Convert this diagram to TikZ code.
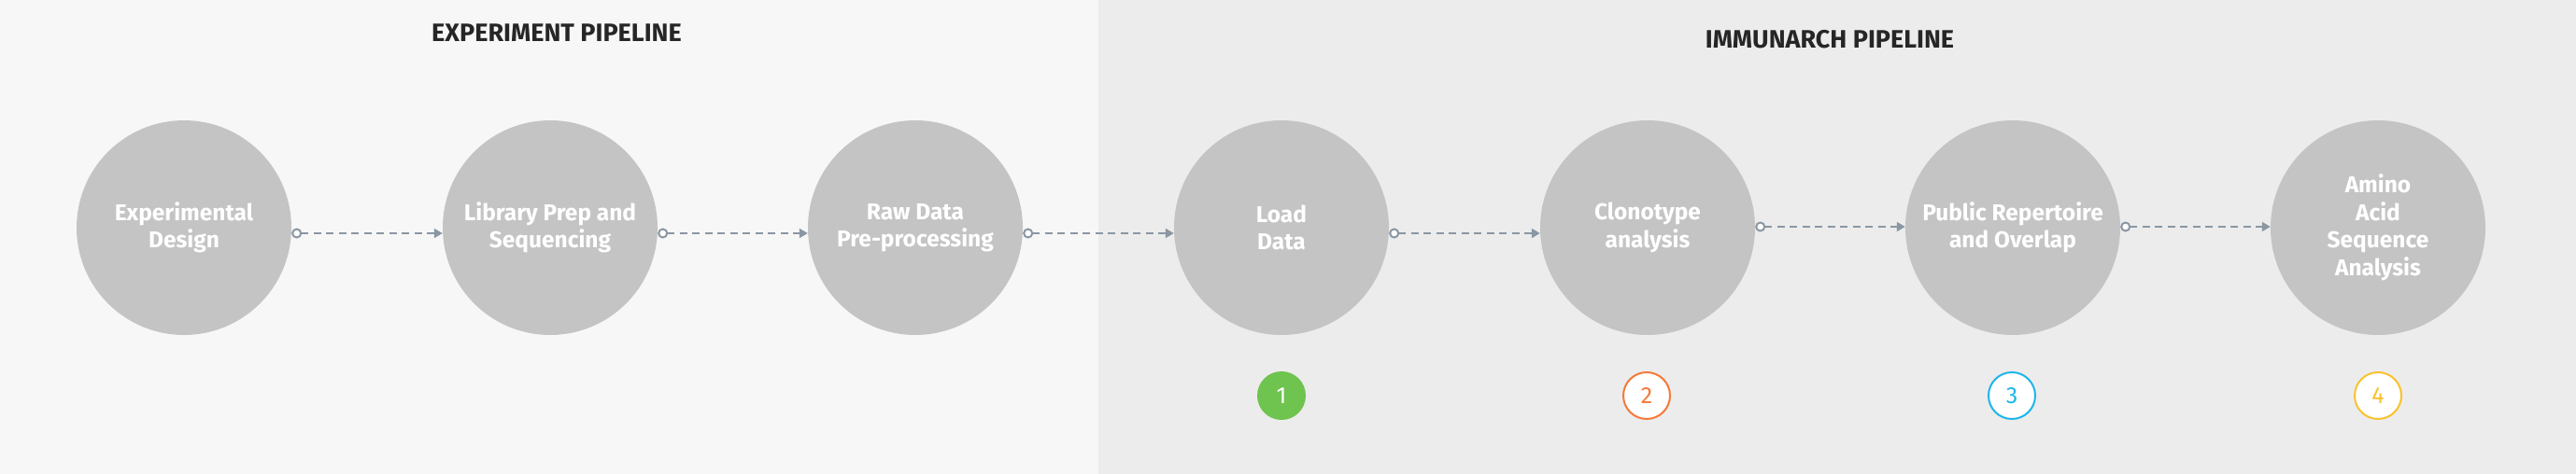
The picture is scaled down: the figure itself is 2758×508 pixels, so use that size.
\documentclass[tikz,border=0pt]{standalone}
\usepackage{fontspec}
\setmainfont{Fira Sans}
\usetikzlibrary{arrows.meta}
\definecolor{bgleft}{HTML}{F7F7F7}
\definecolor{bgright}{HTML}{ECECEC}
\definecolor{stepgray}{HTML}{C4C4C4}
\definecolor{conncol}{HTML}{8A97A3}
\definecolor{titlecol}{HTML}{262626}
\definecolor{bgreen}{HTML}{6FC34F}
\definecolor{borange}{HTML}{F47A3A}
\definecolor{bblue}{HTML}{1EB6E9}
\definecolor{byellow}{HTML}{F9C22E}
\tikzset{
  stepcircle/.style={circle, fill=stepgray, minimum size=230pt, inner sep=0pt,
    text=white, align=center, font=\fontsize{24.5}{29.5}\selectfont\bfseries},
  conn/.style={draw=conncol, line width=2pt, dash pattern=on 8pt off 5.5pt,
    {Circle[open,length=11pt,width=11pt,fill=white,line width=2pt]}-{Triangle[length=9pt,width=10pt]}},
  title/.style={text=titlecol, font=\fontsize{27}{30}\selectfont\bfseries},
  badge/.style={circle, minimum size=50pt, inner sep=0pt, line width=2pt,
    font=\fontsize{25}{30}\selectfont}
}
\begin{document}
\begin{tikzpicture}[x=1pt,y=-1pt]
\useasboundingbox (0,0) rectangle (2758,508);
\fill[bgleft] (0,0) rectangle (1176,508);
\fill[bgright] (1176,0) rectangle (2758,508);
\node[title] (t1) at (596,35) {EXPERIMENT PIPELINE};
\node[title] (t2) at (1959,42) {IMMUNARCH PIPELINE};
\node[stepcircle] (a) at (197,244) {Experimental\\Design};
\node[stepcircle] (b) at (589,244) {Library Prep and\\Sequencing};
\node[stepcircle] (c) at (980,244) {Raw Data\\Pre-processing};
\node[stepcircle] (d) at (1372,244) {Load\\Data};
\node[stepcircle] (e) at (1764,244) {Clonotype\\analysis};
\node[stepcircle] (f) at (2155,244) {Public Repertoire\\and Overlap};
\node[stepcircle] (g) at (2546,244) {Amino\\Acid\\Sequence\\Analysis};
\draw[conn] ([yshift=-6pt]a.east) -- ([yshift=-6pt]b.west);
\draw[conn] ([yshift=-6pt]b.east) -- ([yshift=-6pt]c.west);
\draw[conn] ([yshift=-6pt]c.east) -- ([yshift=-6pt]d.west);
\draw[conn] ([yshift=-6pt]d.east) -- ([yshift=-6pt]e.west);
\draw[conn] ([yshift=1pt]e.east) -- ([yshift=1pt]f.west);
\draw[conn] ([yshift=1pt]f.east) -- ([yshift=1pt]g.west);
\node[badge, fill=bgreen, draw=bgreen, text=white] (n1) at (1372,424) {1};
\node[badge, fill=white, draw=borange, text=borange] (n2) at (1763,424) {2};
\node[badge, fill=white, draw=bblue, text=bblue] (n3) at (2154,424) {3};
\node[badge, fill=white, draw=byellow, text=byellow] (n4) at (2546,424) {4};
\end{tikzpicture}
\end{document}
